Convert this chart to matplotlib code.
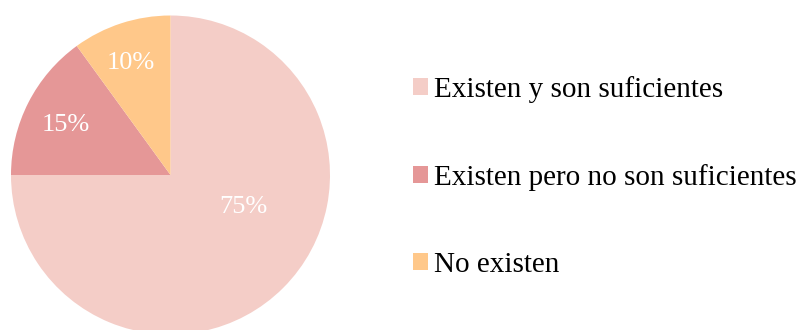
import matplotlib.pyplot as plt

plt.rcParams['font.family'] = ['Liberation Serif', 'DejaVu Serif']

labels = ["Existen y son suficientes", "Existen pero no son suficientes", "No existen"]
values = [75, 15, 10]
colors = ["#F4CDC7", "#E59797", "#FFC88A"]

fig = plt.figure(figsize=(8.03, 3.30), dpi=100)

# pie axes: centre at (170.5, 175) px, radius ~159.5 px
W, H = 803, 330
r = 159.5
cx, cy = 170.5, H - 175
ax = fig.add_axes([(cx - r) / W, (cy - r) / H, 2 * r / W, 2 * r / H])

wedges, texts, autotexts = ax.pie(values, colors=colors, startangle=90, counterclock=False,
                                  autopct="%1.0f%%", pctdistance=0.74, radius=1.0,
                                  wedgeprops=dict(linewidth=0),
                                  textprops=dict(color="white", fontsize=19))
# big slice label sits right of centre
autotexts[0].set_position((0.455, -0.20))
x, y = autotexts[1].get_position()
autotexts[1].set_position((x, y - 0.02))
x, y = autotexts[2].get_position()
autotexts[2].set_position((x - 0.02, y))
for w in wedges:
    w.set_clip_on(False)
ax.set_xlim(-1, 1)
ax.set_ylim(-1, 1)
ax.set_aspect("equal")
ax.axis("off")

fig.legend(wedges, labels, loc="center left", bbox_to_anchor=(413 / W, (H - 177) / H),
           frameon=False, fontsize=21, borderpad=0, borderaxespad=0,
           handlelength=0.52, handleheight=0.52, handletextpad=0.2, labelspacing=2.1)

fig.savefig("out.png", dpi=100)
